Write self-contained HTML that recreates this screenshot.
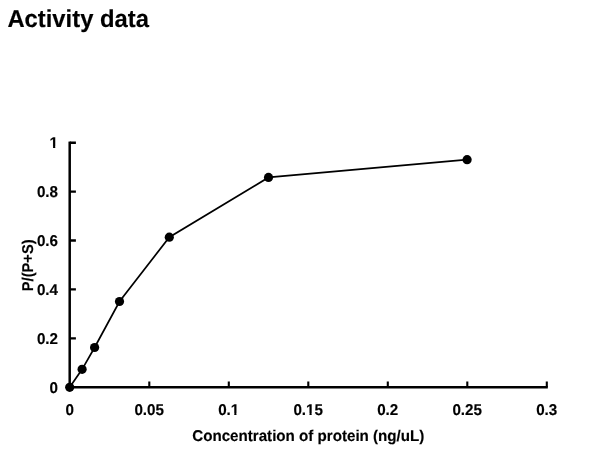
<!DOCTYPE html>
<html><head><meta charset="utf-8">
<style>
html,body{margin:0;padding:0;background:#fff;}
body{width:607px;height:461px;overflow:hidden;position:relative;font-family:"Liberation Sans",sans-serif;}
svg{position:absolute;left:0;top:0;filter:grayscale(1);}
text{font-family:"Liberation Sans",sans-serif;font-weight:bold;fill:#000;stroke:#000;stroke-width:0.15px;text-rendering:geometricPrecision;}
</style></head><body>
<svg width="607" height="461" viewBox="0 0 607 461">
<text transform="translate(7.4,26.5)  scale(1,1.03)" font-size="23.8" text-anchor="start">Activity data</text>
<g stroke="#000" stroke-width="2.5" fill="none">
<path d="M69.7 141.6 V388.40000000000003"/>
<path d="M68.60000000000001 387.3 H547.8"/>
</g>
<g stroke="#000" stroke-width="2.4" fill="none">
<path d="M69.7 338.4 h6.2 M69.7 289.4 h6.2 M69.7 240.5 h6.2 M69.7 191.6 h6.2 M69.7 142.7 h6.2"/>
<path stroke-width="2.1" d="M149.3 387.3 v-5.7 M228.8 387.3 v-5.7 M308.3 387.3 v-5.7 M387.8 387.3 v-5.7 M467.3 387.3 v-5.7 M546.8 387.3 v-5.7"/>
</g>
<polyline fill="none" stroke="#000" stroke-width="1.7" points="69.7,387.3 82.1,369.3 94.6,347.5 119.5,301.5 169.3,237.2 268.5,177.4 467.1,159.7"/>
<g fill="#000"><circle cx="69.7" cy="387.3" r="4.6"/><circle cx="82.1" cy="369.3" r="4.6"/><circle cx="94.6" cy="347.5" r="4.6"/><circle cx="119.5" cy="301.5" r="4.6"/><circle cx="169.3" cy="237.2" r="4.6"/><circle cx="268.5" cy="177.4" r="4.6"/><circle cx="467.1" cy="159.7" r="4.6"/></g>
<text transform="translate(58,392.5)  scale(1,1.026)" font-size="15.2" text-anchor="end">0</text>
<text transform="translate(58,343.6)  scale(1,1.026)" font-size="15.2" text-anchor="end">0.2</text>
<text transform="translate(58,294.6)  scale(1,1.026)" font-size="15.2" text-anchor="end">0.4</text>
<text transform="translate(58,245.7)  scale(1,1.026)" font-size="15.2" text-anchor="end">0.6</text>
<text transform="translate(58,196.8)  scale(1,1.026)" font-size="15.2" text-anchor="end">0.8</text>
<text transform="translate(58,147.8)  scale(1,1.026)" font-size="15.2" text-anchor="end">1</text>
<text transform="translate(69.7,415.3)  scale(1,1.026)" font-size="15.2" text-anchor="middle">0</text>
<text transform="translate(149.2,415.3)  scale(1,1.026)" font-size="15.2" text-anchor="middle">0.05</text>
<text transform="translate(228.7,415.3)  scale(1,1.026)" font-size="15.2" text-anchor="middle">0.1</text>
<text transform="translate(308.2,415.3)  scale(1,1.026)" font-size="15.2" text-anchor="middle">0.15</text>
<text transform="translate(387.7,415.3)  scale(1,1.026)" font-size="15.2" text-anchor="middle">0.2</text>
<text transform="translate(467.2,415.3)  scale(1,1.026)" font-size="15.2" text-anchor="middle">0.25</text>
<text transform="translate(546.7,415.3)  scale(1,1.026)" font-size="15.2" text-anchor="middle">0.3</text>
<text transform="translate(308.3,440.6)  scale(0.997,1.026)" font-size="15.2" text-anchor="middle">Concentration of protein (ng/uL)</text>
<text transform="translate(33.2,265.3) rotate(-90) scale(0.965,1.026)" font-size="15.2" text-anchor="middle">P/(P+S)</text>
<rect x="49" y="146" width="4.05" height="2.6" fill="#fff"/><rect x="55.26" y="146" width="3.74" height="2.6" fill="#fff"/>
<rect x="230.5" y="413" width="3.77" height="2.6" fill="#fff"/><rect x="236.47" y="413" width="3.13" height="2.6" fill="#fff"/>
<rect x="306.2" y="413" width="3.27" height="2.6" fill="#fff"/><rect x="311.67" y="413" width="2.93" height="2.6" fill="#fff"/>
</svg>
</body></html>
